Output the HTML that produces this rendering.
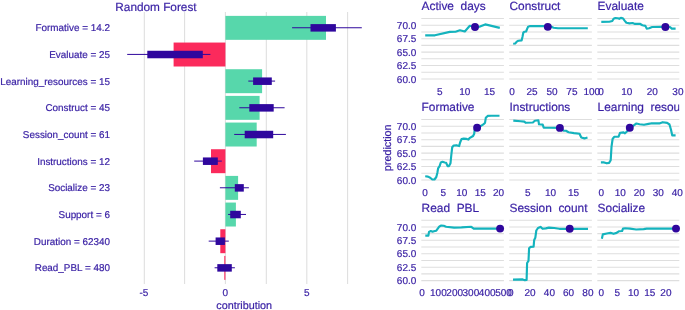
<!DOCTYPE html>
<html><head><meta charset="utf-8"><title>Random Forest</title>
<style>
html,body{margin:0;padding:0;background:#fff;}
body{width:685px;height:310px;overflow:hidden;position:relative;font-family:"Liberation Sans",sans-serif;}
</style></head><body>
<svg width="685" height="310" viewBox="0 0 685 310" style="position:absolute;left:0;top:0;will-change:transform;font-family:'Liberation Sans',sans-serif">
<rect width="685" height="310" fill="#fff"/>
<style>text{stroke:#371ea3;stroke-width:0.2px;paint-order:stroke;text-rendering:geometricPrecision}</style>
<line x1="144.30" x2="144.30" y1="11.9" y2="283.9" stroke="#dedede" stroke-width="1.05"/>
<line x1="184.60" x2="184.60" y1="11.9" y2="283.9" stroke="#dedede" stroke-width="1.05"/>
<line x1="225.40" x2="225.40" y1="11.9" y2="283.9" stroke="#dedede" stroke-width="1.05"/>
<line x1="266.30" x2="266.30" y1="11.9" y2="283.9" stroke="#dedede" stroke-width="1.05"/>
<line x1="306.80" x2="306.80" y1="11.9" y2="283.9" stroke="#dedede" stroke-width="1.05"/>
<line x1="347.60" x2="347.60" y1="11.9" y2="283.9" stroke="#dedede" stroke-width="1.05"/>
<rect x="225.40" y="15.88" width="100.60" height="23.95" fill="#57d7ab"/>
<rect x="173.60" y="42.55" width="51.80" height="23.95" fill="#fb2a5c"/>
<rect x="225.40" y="69.22" width="36.70" height="23.95" fill="#57d7ab"/>
<rect x="225.40" y="95.89" width="34.20" height="23.95" fill="#57d7ab"/>
<rect x="225.40" y="122.56" width="31.30" height="23.95" fill="#57d7ab"/>
<rect x="211.00" y="149.23" width="14.40" height="23.95" fill="#fb2a5c"/>
<rect x="225.40" y="175.90" width="12.70" height="23.95" fill="#57d7ab"/>
<rect x="225.40" y="202.56" width="10.50" height="23.95" fill="#57d7ab"/>
<rect x="220.30" y="229.24" width="5.10" height="23.95" fill="#fb2a5c"/>
<rect x="224.30" y="255.91" width="1.10" height="23.95" fill="#fb2a5c"/>
<line x1="292.1" x2="361.8" y1="27.75" y2="27.75" stroke="#2f079d" stroke-width="1.0"/>
<rect x="310.5" y="24.10" width="25.40" height="7.5" fill="#2f079d"/>
<line x1="127.2" x2="210.4" y1="54.42" y2="54.42" stroke="#2f079d" stroke-width="1.0"/>
<rect x="147.3" y="50.77" width="55.50" height="7.5" fill="#2f079d"/>
<line x1="248.3" x2="275.1" y1="81.09" y2="81.09" stroke="#2f079d" stroke-width="1.0"/>
<rect x="253.1" y="77.44" width="18.70" height="7.5" fill="#2f079d"/>
<line x1="239.3" x2="284.6" y1="107.76" y2="107.76" stroke="#2f079d" stroke-width="1.0"/>
<rect x="249.3" y="104.11" width="24.40" height="7.5" fill="#2f079d"/>
<line x1="234.2" x2="285.9" y1="134.43" y2="134.43" stroke="#2f079d" stroke-width="1.0"/>
<rect x="244.7" y="130.78" width="28.50" height="7.5" fill="#2f079d"/>
<line x1="194.2" x2="221.8" y1="161.10" y2="161.10" stroke="#2f079d" stroke-width="1.0"/>
<rect x="202.9" y="157.45" width="14.90" height="7.5" fill="#2f079d"/>
<line x1="219.9" x2="248.9" y1="187.77" y2="187.77" stroke="#2f079d" stroke-width="1.0"/>
<rect x="234.8" y="184.12" width="9.00" height="7.5" fill="#2f079d"/>
<line x1="228.1" x2="246.0" y1="214.44" y2="214.44" stroke="#2f079d" stroke-width="1.0"/>
<rect x="230.2" y="210.79" width="10.60" height="7.5" fill="#2f079d"/>
<line x1="208.7" x2="228.8" y1="241.11" y2="241.11" stroke="#2f079d" stroke-width="1.0"/>
<rect x="215.6" y="237.46" width="9.30" height="7.5" fill="#2f079d"/>
<line x1="214.6" x2="234.9" y1="267.78" y2="267.78" stroke="#2f079d" stroke-width="1.0"/>
<rect x="217.3" y="264.13" width="14.50" height="7.5" fill="#2f079d"/>
<text x="109.9" y="31.30" font-size="9.9" text-anchor="end" fill="#371ea3">Formative = 14.2</text>
<text x="109.9" y="57.97" font-size="9.9" text-anchor="end" fill="#371ea3">Evaluate = 25</text>
<text x="109.9" y="84.64" font-size="9.9" text-anchor="end" fill="#371ea3">Learning_resources = 15</text>
<text x="109.9" y="111.31" font-size="9.9" text-anchor="end" fill="#371ea3">Construct = 45</text>
<text x="109.9" y="137.98" font-size="9.9" text-anchor="end" fill="#371ea3">Session_count = 61</text>
<text x="109.9" y="164.65" font-size="9.9" text-anchor="end" fill="#371ea3">Instructions = 12</text>
<text x="109.9" y="191.32" font-size="9.9" text-anchor="end" fill="#371ea3">Socialize = 23</text>
<text x="109.9" y="217.99" font-size="9.9" text-anchor="end" fill="#371ea3">Support = 6</text>
<text x="109.9" y="244.66" font-size="9.9" text-anchor="end" fill="#371ea3">Duration = 62340</text>
<text x="109.9" y="271.33" font-size="9.9" text-anchor="end" fill="#371ea3">Read_PBL = 480</text>
<text x="115.3" y="10.6" font-size="11.8" fill="#371ea3">Random Forest</text>
<text x="143.90" y="295.8" font-size="10" text-anchor="middle" fill="#371ea3">-5</text>
<text x="225.40" y="295.8" font-size="10" text-anchor="middle" fill="#371ea3">0</text>
<text x="306.90" y="295.8" font-size="10" text-anchor="middle" fill="#371ea3">5</text>
<text x="244.2" y="308.5" font-size="10.8" text-anchor="middle" fill="#371ea3">contribution</text>
<defs>
<clipPath id="c0"><rect x="421.3" y="0" width="82.60" height="310"/></clipPath>
<clipPath id="c1"><rect x="509.2" y="0" width="82.70" height="310"/></clipPath>
<clipPath id="c2"><rect x="597.3" y="0" width="82.00" height="310"/></clipPath>
</defs>
<line x1="421.3" x2="503.9" y1="78.95" y2="78.95" stroke="#dedede" stroke-width="1.05"/>
<line x1="421.3" x2="503.9" y1="72.24" y2="72.24" stroke="#dedede" stroke-width="1.05"/>
<line x1="421.3" x2="503.9" y1="65.53" y2="65.53" stroke="#dedede" stroke-width="1.05"/>
<line x1="421.3" x2="503.9" y1="58.81" y2="58.81" stroke="#dedede" stroke-width="1.05"/>
<line x1="421.3" x2="503.9" y1="52.10" y2="52.10" stroke="#dedede" stroke-width="1.05"/>
<line x1="421.3" x2="503.9" y1="45.39" y2="45.39" stroke="#dedede" stroke-width="1.05"/>
<line x1="421.3" x2="503.9" y1="38.68" y2="38.68" stroke="#dedede" stroke-width="1.05"/>
<line x1="421.3" x2="503.9" y1="31.96" y2="31.96" stroke="#dedede" stroke-width="1.05"/>
<line x1="421.3" x2="503.9" y1="25.25" y2="25.25" stroke="#dedede" stroke-width="1.05"/>
<line x1="421.3" x2="503.9" y1="18.54" y2="18.54" stroke="#dedede" stroke-width="1.05"/>
<path d="M425.2,35.3 L434.9,35.3 L449.8,31.9 L455.5,31.7 L459.9,30.3 L464.8,31.5 L469.8,25.8 L475.0,27.0 L480.0,26.6 L485.2,24.4 L499.8,27.9" fill="none" stroke="#14b3bd" stroke-width="2.15" stroke-linejoin="round" stroke-linecap="butt"/>
<circle cx="475.0" cy="27.0" r="3.95" fill="#2f079d"/>
<text x="421.60" y="10.45" font-size="11.9" fill="#371ea3" xml:space="preserve" clip-path="url(#c0)">Active  days</text>
<text x="439.9" y="94.75" font-size="10" text-anchor="middle" fill="#371ea3">5</text>
<text x="464.8" y="94.75" font-size="10" text-anchor="middle" fill="#371ea3">10</text>
<text x="489.6" y="94.75" font-size="10" text-anchor="middle" fill="#371ea3">15</text>
<line x1="509.2" x2="591.9" y1="78.95" y2="78.95" stroke="#dedede" stroke-width="1.05"/>
<line x1="509.2" x2="591.9" y1="72.24" y2="72.24" stroke="#dedede" stroke-width="1.05"/>
<line x1="509.2" x2="591.9" y1="65.53" y2="65.53" stroke="#dedede" stroke-width="1.05"/>
<line x1="509.2" x2="591.9" y1="58.81" y2="58.81" stroke="#dedede" stroke-width="1.05"/>
<line x1="509.2" x2="591.9" y1="52.10" y2="52.10" stroke="#dedede" stroke-width="1.05"/>
<line x1="509.2" x2="591.9" y1="45.39" y2="45.39" stroke="#dedede" stroke-width="1.05"/>
<line x1="509.2" x2="591.9" y1="38.68" y2="38.68" stroke="#dedede" stroke-width="1.05"/>
<line x1="509.2" x2="591.9" y1="31.96" y2="31.96" stroke="#dedede" stroke-width="1.05"/>
<line x1="509.2" x2="591.9" y1="25.25" y2="25.25" stroke="#dedede" stroke-width="1.05"/>
<line x1="509.2" x2="591.9" y1="18.54" y2="18.54" stroke="#dedede" stroke-width="1.05"/>
<path d="M513.2,43.7 L515.2,43.5 L516.8,41.6 L518.3,40.8 L521.6,40.4 L522.5,36.7 L523.3,32.7 L524.5,31.7 L526.1,31.5 L527.1,28.9 L528.1,26.8 L530.2,26.1 L543.6,26.0 L547.8,26.9 L551.9,26.9 L553.5,27.7 L558.0,28.2 L587.8,28.2" fill="none" stroke="#14b3bd" stroke-width="2.15" stroke-linejoin="round" stroke-linecap="butt"/>
<circle cx="547.8" cy="26.85" r="3.95" fill="#2f079d"/>
<text x="509.50" y="10.45" font-size="11.9" fill="#371ea3" xml:space="preserve" clip-path="url(#c1)">Construct</text>
<text x="512.1" y="94.75" font-size="10" text-anchor="middle" fill="#371ea3">0</text>
<text x="532.0" y="94.75" font-size="10" text-anchor="middle" fill="#371ea3">25</text>
<text x="551.95" y="94.75" font-size="10" text-anchor="middle" fill="#371ea3">50</text>
<text x="571.9" y="94.75" font-size="10" text-anchor="middle" fill="#371ea3">75</text>
<text x="591.8" y="94.75" font-size="10" text-anchor="middle" fill="#371ea3">100</text>
<line x1="597.3" x2="679.3" y1="78.95" y2="78.95" stroke="#dedede" stroke-width="1.05"/>
<line x1="597.3" x2="679.3" y1="72.24" y2="72.24" stroke="#dedede" stroke-width="1.05"/>
<line x1="597.3" x2="679.3" y1="65.53" y2="65.53" stroke="#dedede" stroke-width="1.05"/>
<line x1="597.3" x2="679.3" y1="58.81" y2="58.81" stroke="#dedede" stroke-width="1.05"/>
<line x1="597.3" x2="679.3" y1="52.10" y2="52.10" stroke="#dedede" stroke-width="1.05"/>
<line x1="597.3" x2="679.3" y1="45.39" y2="45.39" stroke="#dedede" stroke-width="1.05"/>
<line x1="597.3" x2="679.3" y1="38.68" y2="38.68" stroke="#dedede" stroke-width="1.05"/>
<line x1="597.3" x2="679.3" y1="31.96" y2="31.96" stroke="#dedede" stroke-width="1.05"/>
<line x1="597.3" x2="679.3" y1="25.25" y2="25.25" stroke="#dedede" stroke-width="1.05"/>
<line x1="597.3" x2="679.3" y1="18.54" y2="18.54" stroke="#dedede" stroke-width="1.05"/>
<path d="M601.3,21.9 L609.3,21.8 L612.3,21.0 L613.6,18.8 L615.4,18.0 L617.8,18.2 L619.3,18.8 L620.9,17.9 L622.8,18.2 L624.6,20.6 L626.4,22.8 L629.5,23.4 L632.6,23.0 L635.0,23.9 L639.9,23.8 L642.4,25.2 L645.4,25.9 L646.7,28.6 L649.1,28.3 L652.2,27.0 L662.0,26.7 L665.4,26.9 L670.0,27.0 L671.8,28.6 L675.6,28.6" fill="none" stroke="#14b3bd" stroke-width="2.15" stroke-linejoin="round" stroke-linecap="butt"/>
<circle cx="665.4" cy="26.95" r="3.95" fill="#2f079d"/>
<text x="597.60" y="10.45" font-size="11.9" fill="#371ea3" xml:space="preserve" clip-path="url(#c2)">Evaluate</text>
<text x="601.0" y="94.75" font-size="10" text-anchor="middle" fill="#371ea3">0</text>
<text x="626.7" y="94.75" font-size="10" text-anchor="middle" fill="#371ea3">10</text>
<text x="652.3" y="94.75" font-size="10" text-anchor="middle" fill="#371ea3">20</text>
<text x="677.9" y="94.75" font-size="10" text-anchor="middle" fill="#371ea3">30</text>
<text x="416.3" y="82.65" font-size="10" text-anchor="end" fill="#371ea3">60.0</text>
<text x="416.3" y="69.23" font-size="10" text-anchor="end" fill="#371ea3">62.5</text>
<text x="416.3" y="55.80" font-size="10" text-anchor="end" fill="#371ea3">65.0</text>
<text x="416.3" y="42.38" font-size="10" text-anchor="end" fill="#371ea3">67.5</text>
<text x="416.3" y="28.95" font-size="10" text-anchor="end" fill="#371ea3">70.0</text>
<line x1="421.3" x2="503.9" y1="179.95" y2="179.95" stroke="#dedede" stroke-width="1.05"/>
<line x1="421.3" x2="503.9" y1="173.24" y2="173.24" stroke="#dedede" stroke-width="1.05"/>
<line x1="421.3" x2="503.9" y1="166.52" y2="166.52" stroke="#dedede" stroke-width="1.05"/>
<line x1="421.3" x2="503.9" y1="159.81" y2="159.81" stroke="#dedede" stroke-width="1.05"/>
<line x1="421.3" x2="503.9" y1="153.10" y2="153.10" stroke="#dedede" stroke-width="1.05"/>
<line x1="421.3" x2="503.9" y1="146.39" y2="146.39" stroke="#dedede" stroke-width="1.05"/>
<line x1="421.3" x2="503.9" y1="139.68" y2="139.68" stroke="#dedede" stroke-width="1.05"/>
<line x1="421.3" x2="503.9" y1="132.96" y2="132.96" stroke="#dedede" stroke-width="1.05"/>
<line x1="421.3" x2="503.9" y1="126.25" y2="126.25" stroke="#dedede" stroke-width="1.05"/>
<line x1="421.3" x2="503.9" y1="119.54" y2="119.54" stroke="#dedede" stroke-width="1.05"/>
<path d="M425.2,176.3 L428.0,176.6 L430.2,177.7 L432.3,179.5 L434.5,179.5 L436.3,177.0 L437.4,172.7 L438.1,168.3 L439.6,166.1 L440.8,162.5 L442.5,161.8 L444.7,162.5 L446.1,162.8 L447.6,166.1 L449.0,166.1 L450.5,163.2 L451.2,156.0 L452.2,147.3 L453.7,145.5 L456.3,145.2 L459.1,146.1 L460.1,142.5 L461.5,139.1 L463.7,138.6 L466.6,138.9 L468.4,139.6 L469.5,138.1 L473.1,136.0 L474.2,133.8 L474.6,130.1 L477.1,127.7 L481.1,125.8 L483.3,124.3 L485.0,122.9 L485.8,117.8 L487.7,115.9 L491.3,115.7 L499.5,115.7" fill="none" stroke="#14b3bd" stroke-width="2.15" stroke-linejoin="round" stroke-linecap="butt"/>
<circle cx="477.1" cy="127.8" r="3.95" fill="#2f079d"/>
<text x="421.60" y="111.45" font-size="11.9" fill="#371ea3" xml:space="preserve" clip-path="url(#c0)">Formative</text>
<text x="425.0" y="195.75" font-size="10" text-anchor="middle" fill="#371ea3">0</text>
<text x="443.4" y="195.75" font-size="10" text-anchor="middle" fill="#371ea3">5</text>
<text x="461.8" y="195.75" font-size="10" text-anchor="middle" fill="#371ea3">10</text>
<text x="480.2" y="195.75" font-size="10" text-anchor="middle" fill="#371ea3">15</text>
<text x="498.6" y="195.75" font-size="10" text-anchor="middle" fill="#371ea3">20</text>
<line x1="509.2" x2="591.9" y1="179.95" y2="179.95" stroke="#dedede" stroke-width="1.05"/>
<line x1="509.2" x2="591.9" y1="173.24" y2="173.24" stroke="#dedede" stroke-width="1.05"/>
<line x1="509.2" x2="591.9" y1="166.52" y2="166.52" stroke="#dedede" stroke-width="1.05"/>
<line x1="509.2" x2="591.9" y1="159.81" y2="159.81" stroke="#dedede" stroke-width="1.05"/>
<line x1="509.2" x2="591.9" y1="153.10" y2="153.10" stroke="#dedede" stroke-width="1.05"/>
<line x1="509.2" x2="591.9" y1="146.39" y2="146.39" stroke="#dedede" stroke-width="1.05"/>
<line x1="509.2" x2="591.9" y1="139.68" y2="139.68" stroke="#dedede" stroke-width="1.05"/>
<line x1="509.2" x2="591.9" y1="132.96" y2="132.96" stroke="#dedede" stroke-width="1.05"/>
<line x1="509.2" x2="591.9" y1="126.25" y2="126.25" stroke="#dedede" stroke-width="1.05"/>
<line x1="509.2" x2="591.9" y1="119.54" y2="119.54" stroke="#dedede" stroke-width="1.05"/>
<path d="M513.3,120.6 L520.6,121.2 L524.3,121.6 L525.6,122.8 L532.9,122.5 L534.8,120.8 L538.4,120.3 L539.0,124.3 L542.7,124.6 L543.7,127.6 L549.5,127.7 L559.9,127.9 L563.6,130.6 L566.0,130.8 L568.5,132.2 L574.0,133.1 L579.5,133.8 L581.3,137.5 L584.4,138.4 L587.5,137.4" fill="none" stroke="#14b3bd" stroke-width="2.15" stroke-linejoin="round" stroke-linecap="butt"/>
<circle cx="559.9" cy="127.9" r="3.95" fill="#2f079d"/>
<text x="509.50" y="111.45" font-size="11.9" fill="#371ea3" xml:space="preserve" clip-path="url(#c1)">Instructions</text>
<text x="527.8" y="195.75" font-size="10" text-anchor="middle" fill="#371ea3">5</text>
<text x="550.6" y="195.75" font-size="10" text-anchor="middle" fill="#371ea3">10</text>
<text x="573.5" y="195.75" font-size="10" text-anchor="middle" fill="#371ea3">15</text>
<line x1="597.3" x2="679.3" y1="179.95" y2="179.95" stroke="#dedede" stroke-width="1.05"/>
<line x1="597.3" x2="679.3" y1="173.24" y2="173.24" stroke="#dedede" stroke-width="1.05"/>
<line x1="597.3" x2="679.3" y1="166.52" y2="166.52" stroke="#dedede" stroke-width="1.05"/>
<line x1="597.3" x2="679.3" y1="159.81" y2="159.81" stroke="#dedede" stroke-width="1.05"/>
<line x1="597.3" x2="679.3" y1="153.10" y2="153.10" stroke="#dedede" stroke-width="1.05"/>
<line x1="597.3" x2="679.3" y1="146.39" y2="146.39" stroke="#dedede" stroke-width="1.05"/>
<line x1="597.3" x2="679.3" y1="139.68" y2="139.68" stroke="#dedede" stroke-width="1.05"/>
<line x1="597.3" x2="679.3" y1="132.96" y2="132.96" stroke="#dedede" stroke-width="1.05"/>
<line x1="597.3" x2="679.3" y1="126.25" y2="126.25" stroke="#dedede" stroke-width="1.05"/>
<line x1="597.3" x2="679.3" y1="119.54" y2="119.54" stroke="#dedede" stroke-width="1.05"/>
<path d="M600.9,162.4 L604.1,162.4 L606.8,163.3 L609.1,162.9 L610.7,160.2 L611.5,146.9 L612.6,139.0 L614.2,136.8 L618.6,136.6 L620.1,132.7 L623.6,132.4 L625.0,133.3 L627.2,131.3 L629.8,127.8 L633.4,125.6 L636.4,123.5 L639.6,124.2 L644.0,124.8 L648.5,123.9 L652.0,123.2 L659.3,123.4 L662.7,122.2 L667.2,122.9 L669.5,124.5 L671.0,129.7 L672.2,135.3 L675.6,135.3" fill="none" stroke="#14b3bd" stroke-width="2.15" stroke-linejoin="round" stroke-linecap="butt"/>
<circle cx="629.8" cy="127.8" r="3.95" fill="#2f079d"/>
<text x="597.60" y="111.45" font-size="11.9" fill="#371ea3" xml:space="preserve" clip-path="url(#c2)">Learning  resou</text>
<text x="601.2" y="195.75" font-size="10" text-anchor="middle" fill="#371ea3">0</text>
<text x="620.2" y="195.75" font-size="10" text-anchor="middle" fill="#371ea3">10</text>
<text x="639.2" y="195.75" font-size="10" text-anchor="middle" fill="#371ea3">20</text>
<text x="658.2" y="195.75" font-size="10" text-anchor="middle" fill="#371ea3">30</text>
<text x="677.2" y="195.75" font-size="10" text-anchor="middle" fill="#371ea3">40</text>
<text x="416.3" y="183.65" font-size="10" text-anchor="end" fill="#371ea3">60.0</text>
<text x="416.3" y="170.22" font-size="10" text-anchor="end" fill="#371ea3">62.5</text>
<text x="416.3" y="156.80" font-size="10" text-anchor="end" fill="#371ea3">65.0</text>
<text x="416.3" y="143.38" font-size="10" text-anchor="end" fill="#371ea3">67.5</text>
<text x="416.3" y="129.95" font-size="10" text-anchor="end" fill="#371ea3">70.0</text>
<line x1="421.3" x2="503.9" y1="280.60" y2="280.60" stroke="#dedede" stroke-width="1.05"/>
<line x1="421.3" x2="503.9" y1="273.89" y2="273.89" stroke="#dedede" stroke-width="1.05"/>
<line x1="421.3" x2="503.9" y1="267.18" y2="267.18" stroke="#dedede" stroke-width="1.05"/>
<line x1="421.3" x2="503.9" y1="260.46" y2="260.46" stroke="#dedede" stroke-width="1.05"/>
<line x1="421.3" x2="503.9" y1="253.75" y2="253.75" stroke="#dedede" stroke-width="1.05"/>
<line x1="421.3" x2="503.9" y1="247.04" y2="247.04" stroke="#dedede" stroke-width="1.05"/>
<line x1="421.3" x2="503.9" y1="240.33" y2="240.33" stroke="#dedede" stroke-width="1.05"/>
<line x1="421.3" x2="503.9" y1="233.61" y2="233.61" stroke="#dedede" stroke-width="1.05"/>
<line x1="421.3" x2="503.9" y1="226.90" y2="226.90" stroke="#dedede" stroke-width="1.05"/>
<line x1="421.3" x2="503.9" y1="220.19" y2="220.19" stroke="#dedede" stroke-width="1.05"/>
<path d="M425.3,235.6 L428.4,235.6 L429.0,231.9 L430.8,231.0 L432.6,231.7 L433.9,231.3 L436.3,230.7 L439.4,226.4 L441.2,225.6 L443.7,225.8 L446.1,226.8 L454.1,227.6 L461.5,227.4 L471.3,226.8 L473.7,228.6 L500.1,228.6" fill="none" stroke="#14b3bd" stroke-width="2.15" stroke-linejoin="round" stroke-linecap="butt"/>
<circle cx="500.1" cy="228.6" r="3.95" fill="#2f079d"/>
<text x="421.60" y="212.10" font-size="11.9" fill="#371ea3" xml:space="preserve" clip-path="url(#c0)">Read  PBL</text>
<text x="422.1" y="296.40" font-size="10" text-anchor="middle" fill="#371ea3">0</text>
<text x="438.4" y="296.40" font-size="10" text-anchor="middle" fill="#371ea3">100</text>
<text x="454.7" y="296.40" font-size="10" text-anchor="middle" fill="#371ea3">200</text>
<text x="470.9" y="296.40" font-size="10" text-anchor="middle" fill="#371ea3">300</text>
<text x="487.2" y="296.40" font-size="10" text-anchor="middle" fill="#371ea3">400</text>
<text x="503.5" y="296.40" font-size="10" text-anchor="middle" fill="#371ea3">500</text>
<line x1="509.2" x2="591.9" y1="280.60" y2="280.60" stroke="#dedede" stroke-width="1.05"/>
<line x1="509.2" x2="591.9" y1="273.89" y2="273.89" stroke="#dedede" stroke-width="1.05"/>
<line x1="509.2" x2="591.9" y1="267.18" y2="267.18" stroke="#dedede" stroke-width="1.05"/>
<line x1="509.2" x2="591.9" y1="260.46" y2="260.46" stroke="#dedede" stroke-width="1.05"/>
<line x1="509.2" x2="591.9" y1="253.75" y2="253.75" stroke="#dedede" stroke-width="1.05"/>
<line x1="509.2" x2="591.9" y1="247.04" y2="247.04" stroke="#dedede" stroke-width="1.05"/>
<line x1="509.2" x2="591.9" y1="240.33" y2="240.33" stroke="#dedede" stroke-width="1.05"/>
<line x1="509.2" x2="591.9" y1="233.61" y2="233.61" stroke="#dedede" stroke-width="1.05"/>
<line x1="509.2" x2="591.9" y1="226.90" y2="226.90" stroke="#dedede" stroke-width="1.05"/>
<line x1="509.2" x2="591.9" y1="220.19" y2="220.19" stroke="#dedede" stroke-width="1.05"/>
<path d="M513.0,279.6 L522.7,279.4 L524.8,280.2 L526.6,279.9 L527.1,263.0 L528.5,260.9 L529.1,248.3 L530.7,246.9 L533.6,246.7 L534.2,239.9 L535.3,237.8 L536.3,230.5 L538.0,228.0 L540.5,226.9 L542.6,228.8 L545.8,228.4 L548.9,227.6 L554.2,228.0 L559.4,228.8 L569.7,228.8 L588.0,228.8" fill="none" stroke="#14b3bd" stroke-width="2.15" stroke-linejoin="round" stroke-linecap="butt"/>
<circle cx="569.7" cy="228.8" r="3.95" fill="#2f079d"/>
<text x="509.50" y="212.10" font-size="11.9" fill="#371ea3" xml:space="preserve" clip-path="url(#c1)">Session  count</text>
<text x="510.9" y="296.40" font-size="10" text-anchor="middle" fill="#371ea3">0</text>
<text x="530.1" y="296.40" font-size="10" text-anchor="middle" fill="#371ea3">20</text>
<text x="549.4" y="296.40" font-size="10" text-anchor="middle" fill="#371ea3">40</text>
<text x="568.6" y="296.40" font-size="10" text-anchor="middle" fill="#371ea3">60</text>
<text x="587.9" y="296.40" font-size="10" text-anchor="middle" fill="#371ea3">80</text>
<line x1="597.3" x2="679.3" y1="280.60" y2="280.60" stroke="#dedede" stroke-width="1.05"/>
<line x1="597.3" x2="679.3" y1="273.89" y2="273.89" stroke="#dedede" stroke-width="1.05"/>
<line x1="597.3" x2="679.3" y1="267.18" y2="267.18" stroke="#dedede" stroke-width="1.05"/>
<line x1="597.3" x2="679.3" y1="260.46" y2="260.46" stroke="#dedede" stroke-width="1.05"/>
<line x1="597.3" x2="679.3" y1="253.75" y2="253.75" stroke="#dedede" stroke-width="1.05"/>
<line x1="597.3" x2="679.3" y1="247.04" y2="247.04" stroke="#dedede" stroke-width="1.05"/>
<line x1="597.3" x2="679.3" y1="240.33" y2="240.33" stroke="#dedede" stroke-width="1.05"/>
<line x1="597.3" x2="679.3" y1="233.61" y2="233.61" stroke="#dedede" stroke-width="1.05"/>
<line x1="597.3" x2="679.3" y1="226.90" y2="226.90" stroke="#dedede" stroke-width="1.05"/>
<line x1="597.3" x2="679.3" y1="220.19" y2="220.19" stroke="#dedede" stroke-width="1.05"/>
<path d="M601.9,238.7 L602.8,234.4 L606.8,233.5 L610.5,232.9 L613.6,233.8 L616.6,232.9 L618.8,231.3 L622.1,231.0 L623.0,228.6 L625.2,228.3 L630.1,228.6 L636.2,229.5 L643.6,229.1 L646.7,228.6 L676.0,228.6" fill="none" stroke="#14b3bd" stroke-width="2.15" stroke-linejoin="round" stroke-linecap="butt"/>
<circle cx="676.0" cy="228.6" r="3.95" fill="#2f079d"/>
<text x="597.60" y="212.10" font-size="11.9" fill="#371ea3" xml:space="preserve" clip-path="url(#c2)">Socialize</text>
<text x="601.2" y="296.40" font-size="10" text-anchor="middle" fill="#371ea3">0</text>
<text x="617.4" y="296.40" font-size="10" text-anchor="middle" fill="#371ea3">5</text>
<text x="633.5" y="296.40" font-size="10" text-anchor="middle" fill="#371ea3">10</text>
<text x="649.7" y="296.40" font-size="10" text-anchor="middle" fill="#371ea3">15</text>
<text x="665.9" y="296.40" font-size="10" text-anchor="middle" fill="#371ea3">20</text>
<text x="416.3" y="284.30" font-size="10" text-anchor="end" fill="#371ea3">60.0</text>
<text x="416.3" y="270.88" font-size="10" text-anchor="end" fill="#371ea3">62.5</text>
<text x="416.3" y="257.45" font-size="10" text-anchor="end" fill="#371ea3">65.0</text>
<text x="416.3" y="244.03" font-size="10" text-anchor="end" fill="#371ea3">67.5</text>
<text x="416.3" y="230.60" font-size="10" text-anchor="end" fill="#371ea3">70.0</text>
<text transform="translate(390.8,147.8) rotate(-90)" font-size="10.8" text-anchor="middle" fill="#371ea3">prediction</text>
</svg>
</body></html>
